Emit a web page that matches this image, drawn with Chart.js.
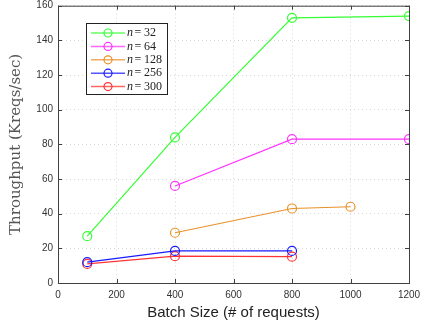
<!DOCTYPE html>
<html>
<head>
<meta charset="utf-8">
<script src="https://cdn.jsdelivr.net/npm/chart.js@4"></script>
<style>
  html, body { margin: 0; padding: 0; background: #fff; }
  #wrap { width: 423px; height: 326px; }
</style>
</head>
<body>
<div id="wrap"><canvas id="tput" width="423" height="326"></canvas></div>
<script>
// values
const seriesLabels = ['32', '64', '128', '256', '300'];
const seriesColors = ['#33ff33', '#ff33ff', '#e8922a', '#1a1aff', '#ff3333'];
const batchN32 = [100, 400, 800, 1200];
const tputN32 = [27, 84, 153, 154];
const batchN64 = [400, 800, 1200];
const tputN64 = [56, 83, 83];
const batchN128 = [400, 800, 1000];
const tputN128 = [29, 43, 44];
const batchN256 = [100, 400, 800];
const tputN256 = [12, 18.5, 18.5];
const batchN300 = [100, 400, 800];
const tputN300 = [11, 15.5, 15.2];
const xTicks = [0, 200, 400, 600, 800, 1000, 1200];
const yTicks = [0, 20, 40, 60, 80, 100, 120, 140, 160];

const xs = [batchN32, batchN64, batchN128, batchN256, batchN300];
const ys = [tputN32, tputN64, tputN128, tputN256, tputN300];

function toPoints(x, y) {
    return x.map((v, i) => ({ x: v, y: y[i] }));
}

// box, inward ticks and the legend drawn on top
const frameAndLegend = {
    id: 'frameAndLegend',
    afterDraw(chart) {
        const ctx = chart.ctx;
        const a = chart.chartArea;
        const sx = chart.scales.x, sy = chart.scales.y;
        ctx.save();
        ctx.strokeStyle = '#404040';
        ctx.lineWidth = 1;
        ctx.strokeRect(a.left + 0.5, a.top + 0.5, a.right - a.left, a.bottom - a.top);
        ctx.beginPath();
        xTicks.forEach(t => {
            const px = Math.round(sx.getPixelForValue(t)) + 0.5;
            ctx.moveTo(px, a.bottom); ctx.lineTo(px, a.bottom - 4);
            ctx.moveTo(px, a.top); ctx.lineTo(px, a.top + 4);
        });
        yTicks.forEach(t => {
            const py = Math.round(sy.getPixelForValue(t)) + 0.5;
            ctx.moveTo(a.left, py); ctx.lineTo(a.left + 4, py);
            ctx.moveTo(a.right, py); ctx.lineTo(a.right - 4, py);
        });
        ctx.stroke();

        // legend
        const lx = 86, ly = 23, lw = 81, lh = 71, row = 13.4;
        ctx.fillStyle = '#fff';
        ctx.fillRect(lx, ly, lw, lh);
        ctx.strokeStyle = '#222';
        ctx.strokeRect(lx + 0.5, ly + 0.5, lw, lh);
        chart.data.datasets.forEach((ds, i) => {
            const yy = ly + 10 + i * row;
            ctx.strokeStyle = ds.borderColor;
            ctx.lineWidth = 1.5;
            ctx.globalAlpha = 0.75;
            ctx.beginPath();
            ctx.moveTo(91, yy); ctx.lineTo(125, yy);
            ctx.stroke();
            ctx.globalAlpha = 1;
            ctx.lineWidth = 1.2;
            ctx.beginPath();
            ctx.arc(108, yy, 4, 0, Math.PI * 2);
            ctx.stroke();
            ctx.fillStyle = '#222';
            ctx.textBaseline = 'middle';
            ctx.font = 'italic 12px "Liberation Serif"';
            ctx.fillText('n', 127, yy);
            ctx.font = '12px "Liberation Serif"';
            ctx.fillText('=', 134.5, yy);
            ctx.fillText(seriesLabels[i], 144, yy);
        });
        ctx.restore();
    }
};

const datasets = seriesLabels.map((lab, i) => ({
    label: 'n = ' + lab,
    data: toPoints(xs[i], ys[i]),
    borderColor: seriesColors[i],
    backgroundColor: 'rgba(0,0,0,0)',
    borderWidth: 1.2,
    pointRadius: 4.5,
    pointBorderWidth: 1.2,
    pointHoverRadius: 4.5,
    tension: 0
}));

new Chart(document.getElementById('tput'), {
    type: 'line',
    data: { datasets: datasets },
    options: {
        responsive: false,
        animation: false,
        layout: { padding: { top: 5, right: 14, left: 0, bottom: 0 } },
        plugins: { legend: { display: false }, tooltip: { enabled: false } },
        scales: {
            x: {
                type: 'linear',
                min: 0, max: 1200,
                afterBuildTicks: s => { s.ticks = xTicks.map(v => ({ value: v })); },
                afterFit: s => { s.height = 43; s.paddingLeft = 0; s.paddingRight = 0; },
                grid: { color: '#d8d8d8', drawTicks: false, lineWidth: 1 },
                border: { display: false, dash: [1, 3] },
                ticks: { color: '#333', font: { family: 'Liberation Sans', size: 10 }, padding: 6, maxRotation: 0,
                         callback: v => String(v) },
                title: { display: true, text: 'Batch Size (# of requests)', color: '#222',
                         font: { family: 'Liberation Sans', size: 15 }, padding: { top: 0 } }
            },
            y: {
                min: 0, max: 160,
                afterBuildTicks: s => { s.ticks = yTicks.map(v => ({ value: v })); },
                afterFit: s => { s.width = 58; s.paddingTop = 0; s.paddingBottom = 0; },
                grid: { color: '#d8d8d8', drawTicks: false, lineWidth: 1 },
                border: { display: false, dash: [1, 3] },
                ticks: { color: '#333', font: { family: 'Liberation Sans', size: 10 }, padding: 5 },
                title: { display: true, text: 'Throughput (Kreqs/sec)', color: '#555',
                         font: { family: 'DejaVu Serif', size: 15 }, padding: { top: 7, bottom: 0 } }
            }
        }
    },
    plugins: [frameAndLegend]
});
</script>
</body>
</html>
